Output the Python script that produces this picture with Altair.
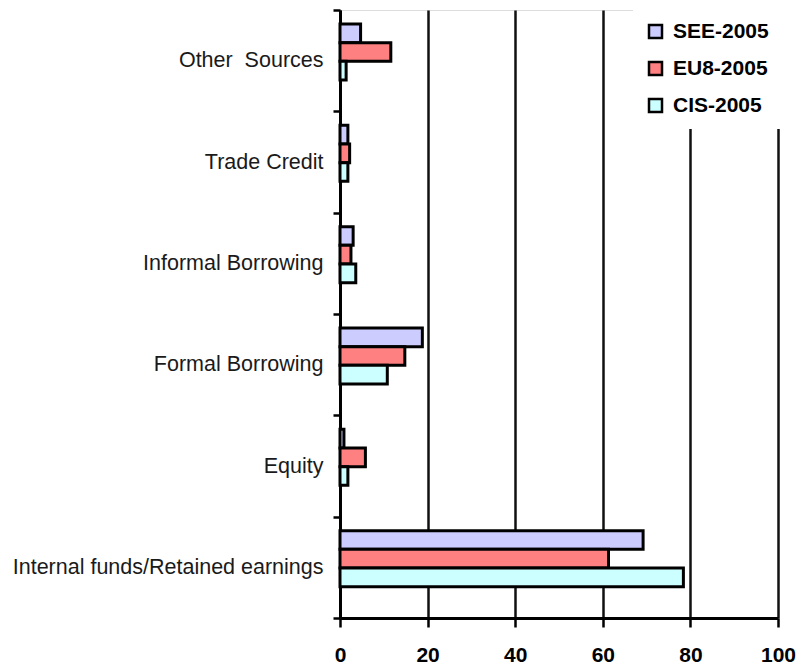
import altair as alt
import pandas as pd

# Sources of investment finance, share of total (%)
categories = [
    "Other\u00a0 Sources",
    "Trade Credit",
    "Informal Borrowing",
    "Formal Borrowing",
    "Equity",
    "Internal funds/Retained earnings",
]
series = ["SEE-2005", "EU8-2005", "CIS-2005"]
see_2005 = [4.7, 1.8, 3.0, 18.8, 0.9, 69.2]
eu8_2005 = [11.6, 2.2, 2.5, 14.8, 5.8, 61.3]
cis_2005 = [1.4, 1.8, 3.6, 10.8, 1.8, 78.4]
series_colors = ["#CCCCFF", "#FF8080", "#CCFFFF"]
x_ticks = [0, 20, 40, 60, 80, 100]

rows = []
for name, values in zip(series, [see_2005, eu8_2005, cis_2005]):
    for cat, v in zip(categories, values):
        rows.append({"source": cat, "group": name, "share": v})
df = pd.DataFrame(rows)

bars = (
    alt.Chart(df)
    .mark_bar(stroke="black", strokeWidth=3)
    .encode(
        x=alt.X(
            "share:Q",
            scale=alt.Scale(domain=[0, 100], nice=False),
            axis=alt.Axis(
                values=x_ticks,
                title=None,
                grid=True,
                gridColor="#111111",
                gridWidth=2.5,
                domainColor="black",
                domainWidth=3,
                tickColor="black",
                tickWidth=2.5,
                tickSize=9,
                labelPadding=17,
                labelFlush=False,
                labelFont="Liberation Sans",
                labelFontSize=21,
                labelFontWeight="bold",
                labelColor="black",
            ),
        ),
        y=alt.Y(
            "source:N",
            sort=categories,
            scale=alt.Scale(paddingInner=0, paddingOuter=0),
            axis=alt.Axis(
                title=None,
                tickBand="extent",
                domainColor="black",
                domainWidth=3,
                tickColor="black",
                tickWidth=2.5,
                tickSize=7,
                labelPadding=10,
                labelFont="Liberation Sans",
                labelFontSize=21.5,
                labelColor="#1a1a1a",
                labelLimit=400,
            ),
        ),
        yOffset=alt.YOffset(
            "group:N",
            sort=series,
            scale=alt.Scale(paddingInner=0, paddingOuter=0, range=[14, 70]),
        ),
        color=alt.Color(
            "group:N",
            sort=series,
            scale=alt.Scale(domain=series, range=series_colors),
            legend=alt.Legend(
                title=None,
                orient="none",
                legendX=293,
                legendY=-1,
                fillColor="white",
                padding=12,
                symbolType="square",
                symbolSize=169,
                symbolStrokeColor="black",
                symbolStrokeWidth=2.5,
                symbolOpacity=1,
                labelFont="Liberation Sans",
                labelFontSize=21,
                labelFontWeight="bold",
                labelColor="black",
                labelOffset=7,
                rowPadding=14,
            ),
        ),
    )
)

chart = (
    bars.properties(
        width=438,
        height=608,
        autosize=alt.AutoSizeParams(type="none"),
        padding={"left": 340, "top": 10, "right": 22, "bottom": 50},
    )
    .configure_view(stroke="#9a9a9a", strokeWidth=2)
    .configure(background="white")
)

chart.save("out.html", embed_options={"renderer": "svg", "actions": False})
